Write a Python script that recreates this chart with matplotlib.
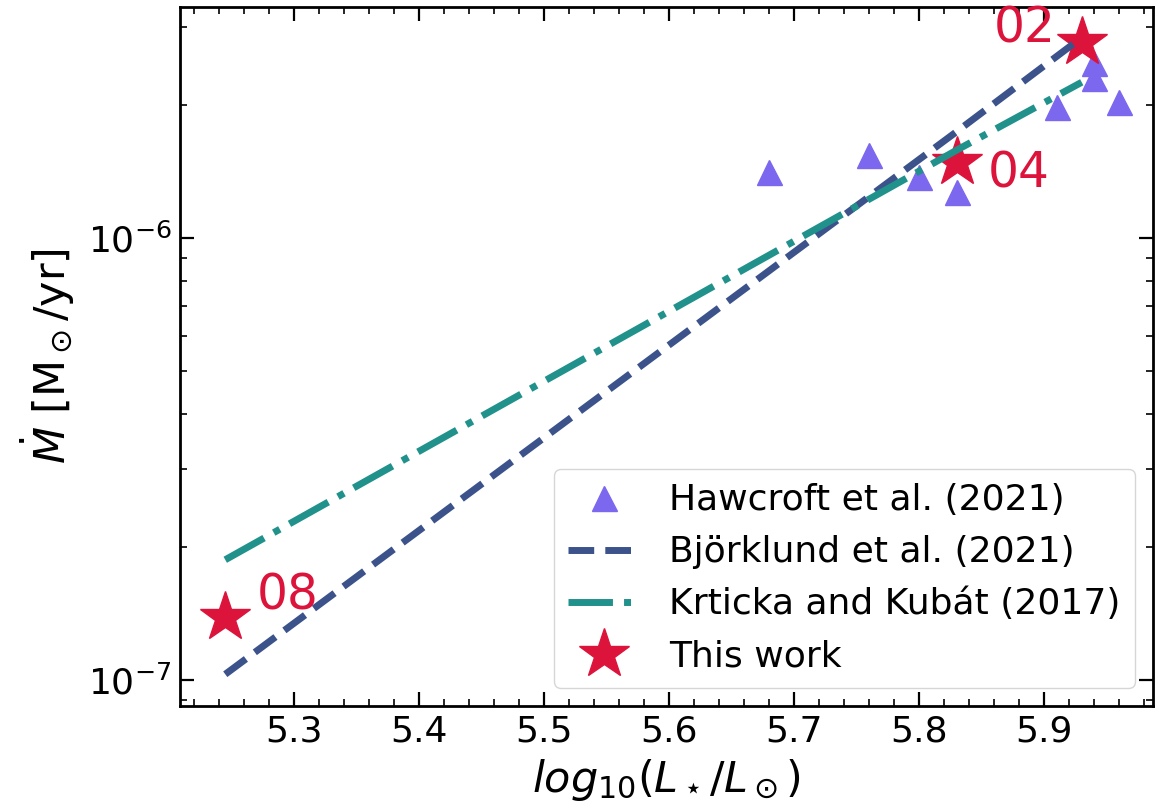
import numpy as np
import matplotlib
matplotlib.use("Agg")
import matplotlib.pyplot as plt

# Hawcroft et al. (2021)
haw_logL = [5.68, 5.76, 5.80, 5.83, 5.91, 5.94, 5.94, 5.96]
haw_mdot = [1.41e-6, 1.54e-6, 1.37e-6, 1.27e-6, 1.98e-6, 2.30e-6, 2.49e-6, 2.03e-6]

# this work
star_logL = [5.245, 5.83, 5.93]
star_mdot = [1.39e-7, 1.485e-6, 2.77e-6]
star_names = ["08", "04", "02"]

# predictions at the same luminosities
bjork_mdot = [1.03e-7, 1.74e-6, 2.84e-6]
krt_mdot = [1.87e-7, 1.58e-6, 2.25e-6]

fig = plt.figure(figsize=(11.55, 8.09), dpi=100)
ax = fig.add_axes([180/1155, 1 - 706/809, (1153 - 180)/1155, (706 - 7)/809])

ax.plot(haw_logL, haw_mdot, '^', color='mediumslateblue', ms=18, ls='none',
        zorder=1, label='Hawcroft et al. (2021)')
ax.plot(star_logL, bjork_mdot, '--', color='#3b528b', lw=5, zorder=3,
        label='Björklund et al. (2021)')
ax.plot(star_logL, krt_mdot, '-.', color='#21918c', lw=5, zorder=3,
        label='Krticka and Kubát (2017)')
ax.plot(star_logL, star_mdot, '*', color='crimson', ms=38, ls='none',
        zorder=2, label='This work')

offs = {"08": (23, 15, 'left'), "04": (22, -8, 'left'), "02": (-19, 10, 'right')}
for x, y, n in zip(star_logL, star_mdot, star_names):
    dx, dy, ha = offs[n]
    ax.annotate(n, (x, y), xytext=(dx, dy), textcoords='offset points',
                ha=ha, va='center', color='crimson', fontsize=35)

ax.set_yscale('log')
ax.set_xlim(5.2088, 5.987)
ax.set_ylim(8.73e-8, 3.33e-6)
ax.set_xticks([5.3, 5.4, 5.5, 5.6, 5.7, 5.8, 5.9])
ax.set_xticks(np.arange(5.22, 5.99, 0.02), minor=True)

ax.tick_params(which='both', direction='in', top=True, right=True, labelsize=26)
ax.tick_params(which='major', length=10, width=1.6, pad=6)
ax.tick_params(which='minor', length=5, width=1.2)
for s in ax.spines.values():
    s.set_linewidth(2)

ax.set_xlabel(r'$log_{10}(L_\star/L_\odot)$', fontsize=31, labelpad=6)
ax.set_ylabel(r'$\dot{M}$ [M$_\odot$/yr]', fontsize=31, labelpad=8)

ax.legend(loc='lower right', fontsize=26)

plt.savefig("out.png")
